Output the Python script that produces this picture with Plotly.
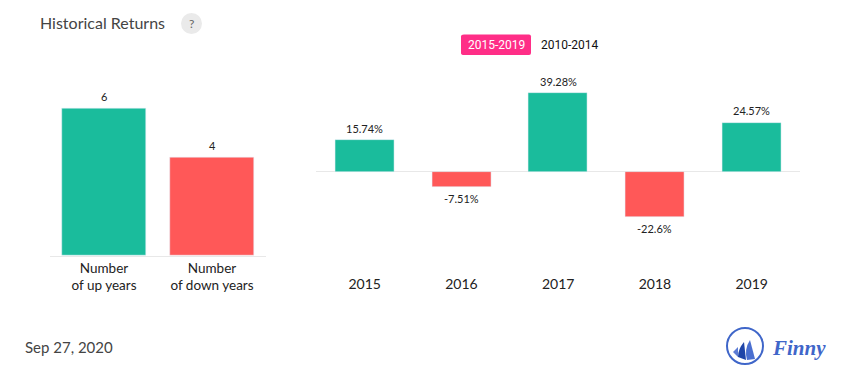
import plotly.graph_objects as go

W, H = 855, 382
count_labels = ["Number<br>of up years", "Number<br>of down years"]
count_values = [6, 4]
count_colors = ["#1ABC9C", "#FF5858"]
years = ["2015", "2016", "2017", "2018", "2019"]
returns = [15.74, -7.51, 39.28, -22.6, 24.57]
return_text = ["15.74%", "-7.51%", "39.28%", "-22.6%", "24.57%"]
return_colors = ["#1ABC9C", "#FF5858", "#1ABC9C", "#FF5858", "#1ABC9C"]

def px(x): return x / W
def py(y): return 1 - y / H

fig = go.Figure()
fig.add_trace(go.Bar(x=count_labels, y=count_values, marker_color=count_colors,
                     width=0.778, xaxis="x", yaxis="y", hoverinfo="skip"))
fig.add_trace(go.Bar(x=years, y=returns, marker_color=return_colors,
                     width=0.61, xaxis="x2", yaxis="y2", hoverinfo="skip"))

shapes = [
    dict(type="circle", xref="paper", yref="paper", x0=px(181), x1=px(202), y0=py(34), y1=py(13),
         fillcolor="#EAEAEA", line_width=0),
    dict(type="path", xref="paper", yref="paper", fillcolor="#FF2E87", line_width=0,
         path=f"M{px(464)},{py(34.5)} L{px(529)},{py(34.5)} Q{px(531)},{py(34.5)} {px(531)},{py(36.5)} "
              f"L{px(531)},{py(53)} Q{px(531)},{py(55)} {px(529)},{py(55)} L{px(464)},{py(55)} "
              f"Q{px(461)},{py(55)} {px(461)},{py(53)} L{px(461)},{py(36.5)} Q{px(461)},{py(34.5)} {px(464)},{py(34.5)} Z"),
    dict(type="circle", xref="paper", yref="paper", x0=px(727), x1=px(763), y0=py(364), y1=py(328),
         fillcolor="rgba(0,0,0,0)", line=dict(color="#3F66C9", width=2)),
    dict(type="path", xref="paper", yref="paper", fillcolor="#5B7BD5", line_width=0,
         path=f"M{px(733)},{py(352)} L{px(738)},{py(347)} L{px(738)},{py(357)} Z"),
    dict(type="path", xref="paper", yref="paper", fillcolor="#1F45A8", line_width=0,
         path=f"M{px(744)},{py(342)} L{px(746)},{py(360)} L{px(738)},{py(357)} Q{px(738)},{py(349)} {px(744)},{py(342)} Z"),
    dict(type="path", xref="paper", yref="paper", fillcolor="#4A6FD0", line_width=0,
         path=f"M{px(750)},{py(340)} L{px(755)},{py(359)} L{px(747)},{py(360)} Q{px(744)},{py(349)} {px(750)},{py(340)} Z"),
]

def note(text, x, y, size, color, family="Lato", anchor="left", **kw):
    return dict(text=text, xref="paper", yref="paper", x=px(x), y=py(y), showarrow=False,
                xanchor=anchor, yanchor="middle", font=dict(family=family, size=size, color=color), **kw)

def bar_label(text, x, y, xref, yref):
    return dict(text=str(text), x=x, y=y, xref=xref, yref=yref, showarrow=False, xanchor="center",
                yanchor="middle", yshift=12 if y >= 0 else -12.5,
                font=dict(family="Lato", size=11, color="#222"))

annotations = [
    note("Historical Returns", 38, 22, 16, "#444"),
    note("?", 191.5, 23.5, 12, "#666", anchor="center"),
    note("2015-2019", 496, 45, 12, "#FFFFFF", family="Roboto", anchor="center"),
    note("2010-2014", 570, 45, 12, "#111111", family="Roboto", anchor="center"),
    note("Sep 27, 2020", 23, 347, 15, "#444"),
    note("<b><i>Finny</i></b>", 770, 348, 21, "#3F66C9", family="Liberation Serif"),
]
annotations += [bar_label(v, i, v, "x", "y") for i, v in enumerate(count_values)]
annotations += [bar_label(t, i, v, "x2", "y2") for i, (v, t) in enumerate(zip(returns, return_text))]

fig.update_layout(
    width=W, height=H, margin=dict(l=0, r=0, t=0, b=0), autosize=False,
    paper_bgcolor="white", plot_bgcolor="white", showlegend=False, bargap=0,
    shapes=shapes, annotations=annotations,
    xaxis=dict(domain=[px(50), px(266)], type="category", range=[-0.5, 1.5], showgrid=False, showline=True,
               linecolor="#E8E8E8", linewidth=1, ticks="", tickfont=dict(family="Lato", size=13.5, color="#222"),
               anchor="y"),
    yaxis=dict(domain=[py(255.7), py(96.45)], range=[0, 6.5], anchor="x", visible=False, showgrid=False),
    xaxis2=dict(domain=[px(316.3), px(800)], type="category", range=[-0.5, 4.5], showgrid=False, showline=False,
                ticks="", tickfont=dict(family="Lato", size=14, color="#222"), anchor="y2"),
    yaxis2=dict(domain=[py(274), py(81.9)], range=[-51.5, 45], anchor="x2", visible=True, showgrid=False,
                showticklabels=False, zeroline=True, zerolinecolor="#E8E8E8", zerolinewidth=1, showline=False, ticks=""),
)
fig.write_html("out.html", config=dict(displayModeBar=False),
               post_script="document.body.style.margin='0';document.body.style.overflow='hidden';")
